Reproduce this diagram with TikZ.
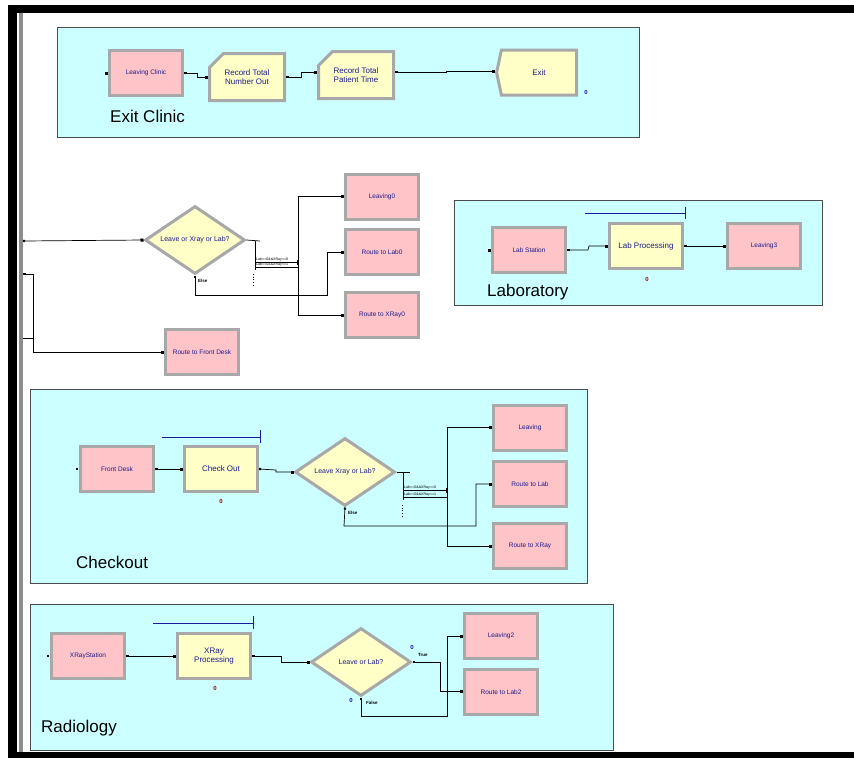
\documentclass[tikz,border=0pt]{standalone}
\usepackage{fontspec}
\setmainfont{Liberation Sans}
\usetikzlibrary{shapes.geometric,shapes.misc,shapes.symbols,arrows.meta,calc}
\definecolor{panelc}{HTML}{CCFFFF}
\definecolor{pinkc}{HTML}{FFC4C8}
\definecolor{yelc}{HTML}{FFFFC8}
\definecolor{bevel}{HTML}{A8A8A8}
\definecolor{navyc}{HTML}{1A1A8C}
\definecolor{redc}{HTML}{A00000}
\definecolor{bluec}{HTML}{1A1AA0}
\tikzset{
  panel/.style={draw=black!70, line width=0.9pt, fill=panelc},
  secttl/.style={anchor=west, font=\fontsize{17}{19}\selectfont, text=black, inner sep=0},
  blockbase/.style={draw=bevel, line width=3pt, inner sep=1pt, align=center, text=navyc,
    font=\fontsize{6.5}{7.5}\selectfont},
  pinkbox/.style={blockbase, fill=pinkc, minimum width=73pt, minimum height=45pt},
  yelbox/.style={blockbase, fill=yelc, minimum width=73pt, minimum height=45pt, font=\fontsize{8}{9}\selectfont},
  recbox/.style={yelbox, chamfered rectangle, chamfered rectangle corners=north west, chamfered rectangle xsep=7pt, chamfered rectangle ysep=7pt, minimum width=75pt, minimum height=47pt},
  exitbox/.style={yelbox, signal, signal to=west, signal pointer angle=156, minimum width=80pt, minimum height=45pt},
  decbox/.style={blockbase, fill=yelc, diamond, aspect=1.44, minimum width=100pt, minimum height=68pt, inner sep=0pt, font=\fontsize{7}{8}\selectfont},
  conn/.style={draw=black, line width=0.7pt, {Square[length=2.2pt,width=2.2pt]}-{Square[length=3pt,width=3pt]}},
  plainln/.style={draw=black, line width=0.7pt},
  qbar/.style={draw=bluec, line width=0.8pt},
  cnt/.style={font=\fontsize{6}{7}\selectfont\bfseries, text=redc, inner sep=0},
  bcnt/.style={font=\fontsize{6}{7}\selectfont\bfseries, text=bluec, inner sep=0},
  cond/.style={font=\fontsize{3.6}{4}\selectfont, text=black, inner sep=0, anchor=south west},
  tlab/.style={font=\fontsize{4.5}{5}\selectfont\bfseries, text=black, inner sep=0, anchor=west},
}
\begin{document}
\begin{tikzpicture}[x=1pt,y=-1pt]
\useasboundingbox (0,0) rectangle (854,758);
\fill[white] (0,0) rectangle (854,758);
% frame
\fill[black] (8,5) rectangle (854,13);
\fill[black] (8,5) rectangle (17,758);
\fill[black] (8,752) rectangle (854,758);
\fill[black!45] (19,13) rectangle (22.5,752);

% panels
\draw[panel] (57,27) rectangle (639,137);
\draw[panel] (454,200) rectangle (822,305);
\draw[panel] (30,389) rectangle (587,583);
\draw[panel] (30,604) rectangle (613,750);

\node[secttl] (t1) at (110,116) {Exit Clinic};
\node[secttl] (t2) at (487,292) {Laboratory};
\node[secttl] (t3) at (76,562) {Checkout};
\node[secttl] (t4) at (41,728) {Radiology};

% ---- Exit Clinic
\node[pinkbox] (lc) at (146,73) {Leaving Clinic};
\node[recbox] (rn) at (247,77) {Record Total\\Number Out};
\node[recbox] (rp) at (356,75) {Record Total\\Patient Time};
\node[exitbox] (ex) at (539,72.5) {Exit};
\node[bcnt] (exc) at (586,92) {0};
\coordinate (lcin) at (106,73);
\fill[black] ($(lcin)+(-1.5,-1.5)$) rectangle +(3,3);
\draw[conn] (lc.east) -- (197,73) -- (197,77) -- (rn.west);
\draw[conn] (rn.east) -- (301,77) -- (301,72) -- (rp.west|-0,72);
\draw[conn] (rp.east|-0,72) -- (446,72) -- (446,71) -- (ex.west|-0,71);

% ---- Middle decide
\node[decbox] (d1) at (195,240) {Leave or Xray or Lab?};
\node[pinkbox] (l0) at (382,197) {Leaving0};
\node[pinkbox] (rl0) at (382,252) {Route to Lab0};
\node[pinkbox] (rx0) at (382,315) {Route to XRay0};
\node[pinkbox] (rfd) at (202,352) {Route to Front Desk};
\coordinate (in1) at (23,241);
\coordinate (in2) at (23,274);
\coordinate (in3) at (23,338);
\coordinate (d1r) at (260,241);
\coordinate (d1v) at (255,270);
\draw[conn] (in1) -- (d1.west);
\draw[conn] (in2) -- (33,274) -- (33,352) -- (rfd.west);
\draw[plainln] (in3) -- (33,338);
\draw[plainln] (d1.east) -- (d1r);
\draw[plainln] (255,241) -- (d1v);
\draw[plainln] (255,262) -- (298,262);
\draw[plainln] (255,267) -- (298,267);
\node[cond] (c1a) at (256,261) {Lab==0\&\&XRay==0};
\node[cond] (c1b) at (256,266.5) {Lab==0\&\&XRay==1};
\draw[conn] (298,262) -- (298,196) -- (l0.west|-0,196);
\draw[conn] (298,262) -- (298,315) -- (rx0.west);
\draw[plainln, dotted, line width=0.8pt] (253,274) -- (253,287);
\draw[conn] (d1.south) -- (195,295) -- (327,295) -- (327,252) -- (rl0.west);
\node[tlab] (e1) at (198,281) {Else};

% ---- Laboratory
\node[pinkbox] (ls) at (529,250) {Lab Station};
\node[yelbox] (lp) at (646,246) {Lab Processing};
\node[pinkbox] (l3) at (764,246) {Leaving3};
\draw[qbar] (585,213) -- (685,213);
\draw[qbar] (685,207) -- (685,219);
\node[cnt] (lpc) at (647,279) {0};
\coordinate (lsin) at (489,250);
\fill[black] ($(lsin)+(-1.5,-1.5)$) rectangle +(3,3);
\draw[conn] (ls.east) -- (588,250) -- (589,246) -- (lp.west);
\draw[conn] (lp.east) -- (l3.west);

% ---- Checkout
\node[pinkbox] (fd) at (117,469) {Front Desk};
\node[yelbox] (co) at (221,469) {Check  Out};
\node[decbox] (d2) at (345,472) {Leave Xray or Lab?};
\node[pinkbox] (lv) at (530,428) {Leaving};
\node[pinkbox] (rl) at (530,484) {Route to Lab};
\node[pinkbox] (rx) at (530,546) {Route to XRay};
\draw[qbar] (162,437) -- (260,437);
\draw[qbar] (260,430) -- (260,443);
\node[cnt] (coc) at (221,501) {0};
\coordinate (fdin) at (77,469);
\fill[black] ($(fdin)+(-1.2,-1.2)$) rectangle +(2.4,2.4);
\draw[conn] (fd.east) -- (co.west);
\draw[conn] (co.east) -- (276,470) -- (276,472) -- (d2.west);
\draw[plainln] (d2.east) -- (410,472);
\draw[plainln] (403,472) -- (403,500);
\draw[plainln] (403,490) -- (447,490);
\draw[plainln] (403,497) -- (447,497);
\node[cond] (c2a) at (404,489) {Lab==0\&\&XRay==0};
\node[cond] (c2b) at (404,496.5) {Lab==0\&\&XRay==1};
\draw[conn] (447,490) -- (447,427) -- (lv.west|-0,427);
\draw[conn] (447,490) -- (447,546) -- (rx.west);
\draw[plainln, dotted, line width=0.8pt] (402,505) -- (402,518);
\draw[conn] (d2.south) -- (344,526) -- (476,526) -- (476,484) -- (rl.west);
\node[tlab] (e2) at (348,513) {Else};

% ---- Radiology
\node[pinkbox] (xs) at (88,656) {XRayStation};
\node[yelbox] (xp) at (214,656) {XRay\\Processing};
\node[decbox] (d3) at (361,662) {Leave or Lab?};
\node[pinkbox] (l2) at (501,636) {Leaving2};
\node[pinkbox] (rl2) at (501,692) {Route to Lab2};
\draw[qbar] (153,623) -- (253,623);
\draw[qbar] (253,616) -- (253,629);
\node[cnt] (xpc) at (215,688) {0};
\coordinate (xsin) at (48,656);
\fill[black] ($(xsin)+(-1.2,-1.2)$) rectangle +(2.4,2.4);
\draw[conn] (xs.east) -- (xp.west);
\draw[conn] (xp.east) -- (281,656) -- (281,662) -- (d3.west);
\draw[conn] (d3.east) -- (440,662) -- (440,691) -- (rl2.west|-0,691);
\draw[conn] (d3.south) -- (361,716) -- (447,716) -- (447,636) -- (l2.west);
\node[tlab] (tr) at (418,655) {True};
\node[tlab] (fa) at (366,703) {False};
\node[bcnt] (dc1) at (412,647) {0};
\node[bcnt] (dc2) at (351,700) {0};
\end{tikzpicture}
\end{document}
